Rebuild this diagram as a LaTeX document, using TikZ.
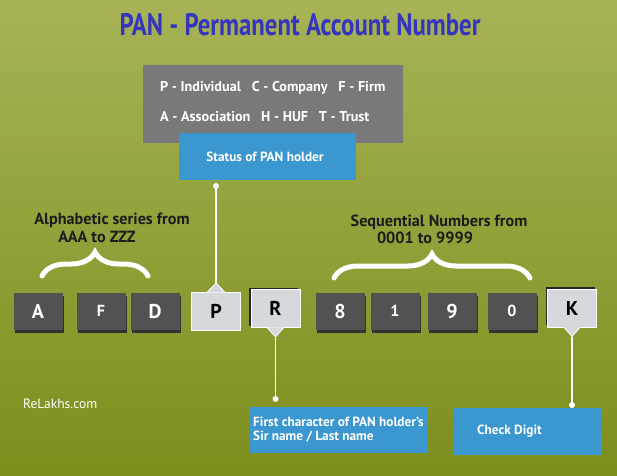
\documentclass[tikz,border=0pt]{standalone}
\usepackage{fontspec}
\setmainfont{PT Sans}
\usetikzlibrary{decorations.pathreplacing,shadows}
\definecolor{bgtop}{HTML}{A7B356}
\definecolor{bgbot}{HTML}{7C8E1C}
\definecolor{titleblue}{HTML}{3535BE}
\definecolor{boxgray}{HTML}{797979}
\definecolor{boxblue}{HTML}{3A97CF}
\definecolor{darkkey}{HTML}{525252}
\definecolor{lightkey}{HTML}{D5D9DC}
\definecolor{darktext}{HTML}{1C1C1C}
\tikzset{
  darkkey/.style={rectangle, fill=darkkey, minimum width=49pt, minimum height=37pt, inner sep=0pt,
    text=white, font=\bfseries\fontsize{20}{20}\selectfont,
    general shadow={fill=black!80, shadow xshift=1pt, shadow yshift=-3pt}},
  smallglyph/.style={font=\bfseries\fontsize{16}{16}\selectfont},
  lightkey/.style={rectangle, fill=lightkey, draw=white, line width=0.8pt, minimum width=49pt, minimum height=38pt,
    inner sep=0pt, text=black, font=\bfseries\fontsize{20}{20}\selectfont},
  topshadow/.style={general shadow={fill=black!85, shadow xshift=-2pt, shadow yshift=2pt}},
  notch/.style={fill=lightkey},
  bluebox/.style={rectangle, fill=boxblue, inner sep=0pt},
  labeltext/.style={text=white, font=\bfseries\fontsize{13.3}{14}\selectfont, inner sep=0pt},
  graytext/.style={text=white, font=\bfseries\fontsize{14.2}{14}\selectfont, inner sep=0pt, anchor=west},
  bracetext/.style={text=darktext, font=\bfseries\fontsize{16.2}{16}\selectfont, inner sep=0pt},
  bracedraw/.style={draw=white, line width=5pt, line cap=round, decorate,
    decoration={brace, amplitude=24pt}},
  conn/.style={draw=white!90!lightkey, line width=1.5pt},
  dot/.style={circle, fill=white, inner sep=0pt, minimum size=6pt},
}
\begin{document}
\begin{tikzpicture}[x=1pt,y=-1pt]
\useasboundingbox (0,0) rectangle (617,475);
\shade[top color=bgtop, bottom color=bgbot] (0,0) rectangle (617,475);

% title
\node[text=titleblue, font=\bfseries\fontsize{31}{31}\selectfont, inner sep=0pt] (title) at (300,25)
  {\scalebox{0.8}[1]{PAN - Permanent Account Number}};

% status legend
\node[rectangle, fill=boxgray, minimum width=260pt, minimum height=78pt, inner sep=0pt] (legend) at (273,104) {};
\node[graytext] (leg1) at (160,88) {P - Individual\ \ \ C - Company\ \ \ F - Firm};
\node[graytext] (leg2) at (160,117) {A - Association\ \ \ H - HUF\ \ \ T - Trust};
\node[bluebox, minimum width=177pt, minimum height=47pt] (status) at (267.5,156.5) {};
\node[labeltext] (statustxt) at (265,157) {Status of PAN holder};

% brace labels
\node[bracetext] (alpha1) at (112,220) {Alphabetic series from};
\node[bracetext] (alpha2) at (97,237) {AAA to ZZZ};
\node[bracetext] (seq1) at (439,222) {Sequential Numbers from};
\node[bracetext] (seq2) at (425,238) {0001 to 9999};

% braces
\coordinate (lb1) at (42,276);
\coordinate (lb2) at (148,276);
\coordinate (rb1) at (334,278);
\coordinate (rb2) at (530,278);
\draw[bracedraw] (lb1) -- (lb2);
\draw[bracedraw] (rb1) -- (rb2);

% keys
\node[darkkey] (kA) at (38,311) {A};
\node[darkkey, smallglyph] (kF) at (101,311) {F};
\node[darkkey] (kD) at (155,311) {D};
\node[darkkey] (k8) at (340,311) {8};
\node[darkkey, smallglyph] (k1) at (395,311) {1};
\node[darkkey] (k9) at (452,311) {9};
\node[darkkey, smallglyph] (k0) at (512,311) {0};

\node[lightkey] (kP) at (216,311) {P};
\filldraw[notch, draw=white, line width=0.8pt] (207,292.4) -- (216,283) -- (225,292.4);
\fill[notch] (206,293) rectangle (226,294);
\coordinate (Ptip) at (216,283);

\node[lightkey, topshadow] (kR) at (275.5,308.5) {R};
\filldraw[notch, draw=white, line width=0.8pt] (267,327.4) -- (275.5,337) -- (284,327.4);
\fill[notch] (266,326) rectangle (285,327);
\coordinate (Rtip) at (275.5,337);

\node[lightkey, topshadow] (kK) at (572,308) {K};
\filldraw[notch, draw=white, line width=0.8pt] (563.5,326.9) -- (572,336.5) -- (580.5,326.9);
\fill[notch] (562.5,325.5) rectangle (581.5,326.5);
\coordinate (Ktip) at (572,336.5);

% bottom boxes
\node[bluebox, minimum width=178pt, minimum height=46pt] (surname) at (339,430) {};
\node[labeltext, anchor=west, align=left] (surnametxt) at (253,430)
  {First character of PAN holder's\\Sir name / Last name};
\node[bluebox, minimum width=149pt, minimum height=47pt] (check) at (527.5,431.5) {};
\node[labeltext, anchor=west] (checktxt) at (477,431) {Check Digit};

% connectors
\node[dot] (d1) at (216,186) {};
\node[dot] (d2) at (275.5,399) {};
\node[dot] (d3) at (572,405) {};
\draw[conn] (d1.center) -- (Ptip);
\draw[conn] (Rtip) -- (d2.center);
\draw[conn] (Ktip) -- (d3.center);

% watermark
\node[text=white, font=\fontsize{13.5}{13.5}\selectfont, inner sep=0pt, anchor=west] (site) at (23,404) {ReLakhs.com};
\end{tikzpicture}
\end{document}
